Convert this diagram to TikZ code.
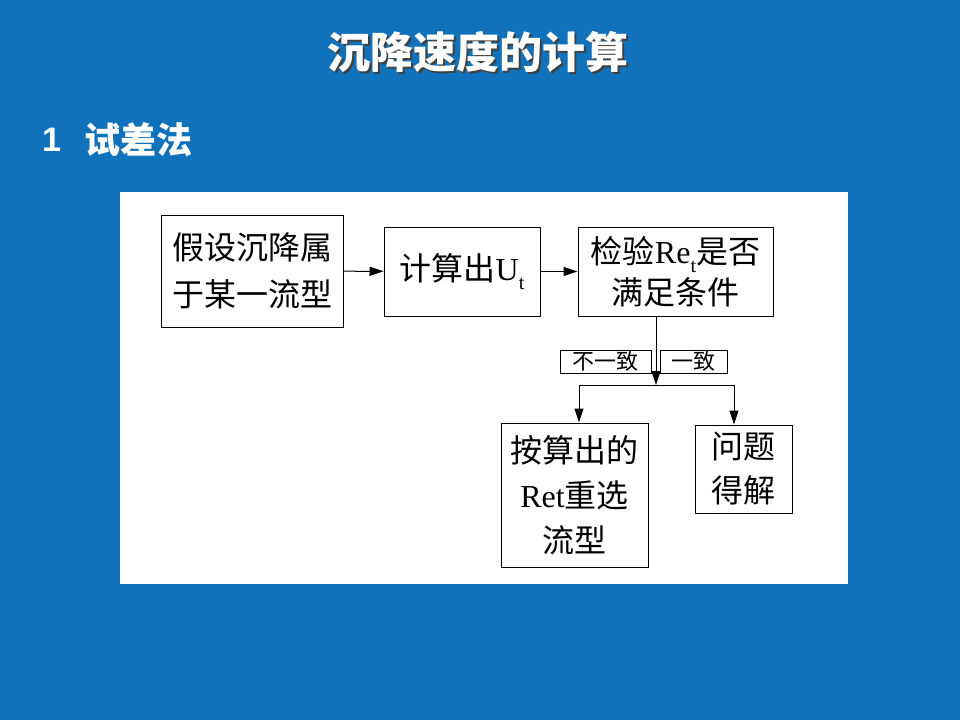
\documentclass[tikz,border=0pt]{standalone}
\usepackage{fontspec}
\setmainfont{Liberation Serif}
\newfontfamily\cjk{Noto Sans CJK SC}
\newfontfamily\arialb{Liberation Sans}
\usetikzlibrary{arrows.meta}
\definecolor{bgblue}{RGB}{16,114,186}
\newcommand{\lat}[1]{{\rmfamily #1}}
\newcommand{\subt}{\raisebox{-9pt}{\fontsize{20}{20}\selectfont\rmfamily t}}
\newcommand{\shadowtext}[1]{\rlap{\hspace{2pt}\raisebox{-2pt}{\textcolor{black!75}{#1}}}#1}
\tikzset{
  box/.style={draw=black, line width=1pt, fill=white, align=center, inner sep=0pt,
    font=\cjk\fontsize{32}{47}\selectfont},
  lbl/.style={draw=black, line width=1pt, fill=white, align=center, inner sep=0pt,
    font=\cjk\fontsize{22}{22}\selectfont},
  arr/.style={line width=1pt, -{Triangle[length=14pt,width=9pt]}},
  conn/.style={line width=1pt}
}
\begin{document}
\begin{tikzpicture}[x=1pt,y=-1pt]
\useasboundingbox (0,0) rectangle (960,720);
\fill[bgblue] (0,0) rectangle (960,720);
% title
\node[text=white, font=\cjk\bfseries\fontsize{43}{43}\selectfont] (title) at (478,53) {\shadowtext{沉降速度的计算}};
% subtitle
\node[text=white, anchor=west, font=\arialb\bfseries\fontsize{34}{34}\selectfont, inner sep=0pt] (num) at (42,140) {1};
\node[text=white, anchor=west, font=\cjk\bfseries\fontsize{36}{36}\selectfont, inner sep=0pt] (sub) at (84,140) {试差法};
% panel
\fill[white] (120,192) rectangle (848,584);
% boxes
\node[box, minimum width=182pt, minimum height=112pt] (b1) at (252,271) {假设沉降属\\于某一流型};
\node[box, minimum width=156pt, minimum height=89pt] (b2) at (462,271.5) {计算出\lat{U}\subt};
\node[box, minimum width=195pt, minimum height=89pt, font=\cjk\fontsize{32}{41}\selectfont] (b3) at (675.5,271.5) {检验\lat{Re}\subt{}是否\\满足条件};
\node[box, minimum width=147pt, minimum height=144pt, font=\cjk\fontsize{32}{45}\selectfont] (b4) at (574.5,495) {按算出的\\\lat{Ret}重选\\流型};
\node[box, minimum width=97pt, minimum height=88pt, font=\cjk\fontsize{32}{44}\selectfont] (b5) at (743.5,469) {问题\\得解};
\node[lbl, minimum width=91pt, minimum height=23pt] (l1) at (605.5,361.5) {不一致};
\node[lbl, minimum width=67pt, minimum height=23pt] (l2) at (693.5,361.5) {一致};
% connectors
\draw[arr] (b1) -- (b2);
\draw[arr] (b2) -- (b3);
\coordinate (m) at (656,385);
\draw[arr] (b3.south -| m) -- (m);
\draw[arr] (m) -| ([xshift=4.5pt]b4.north);
\draw[arr] (m) -| ([xshift=-9.5pt]b5.north);
\end{tikzpicture}
\end{document}
